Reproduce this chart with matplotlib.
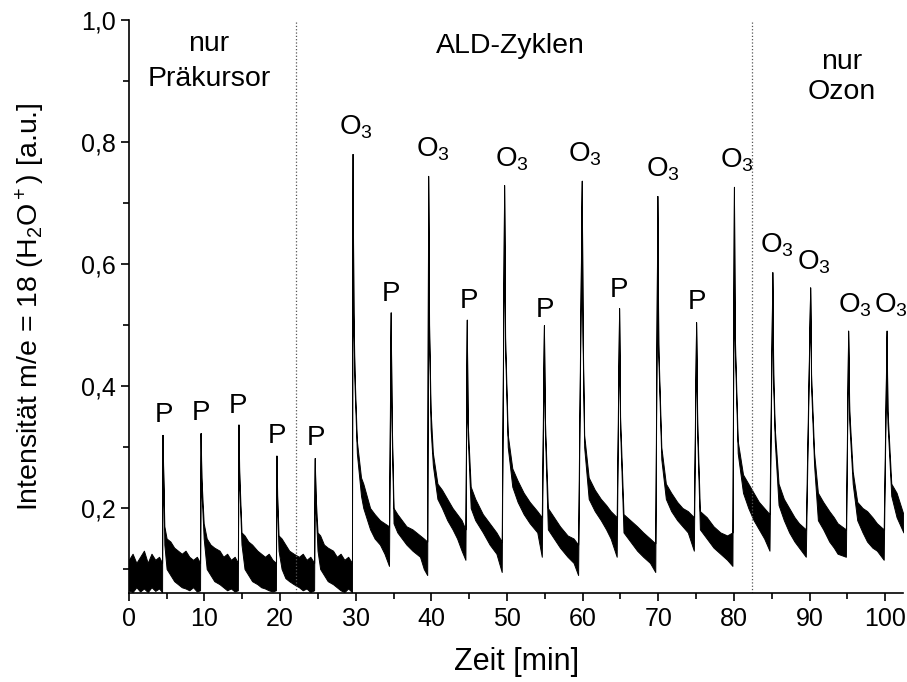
import matplotlib
matplotlib.use("Agg")

import matplotlib.pyplot as plt
from matplotlib.ticker import MultipleLocator, FuncFormatter


# Zeit in min, untere und obere Kante des verrauschten Signals (aus dem Bild gelesen)
zeit = [
    0.0, 0.5, 1.0, 1.5, 2.0, 2.5, 3.0, 3.5, 4.0, 4.40, 4.46, 4.55, 4.7, 5.0, 5.5, 6.0, 6.5, 7.0,
    7.5, 8.0, 8.5, 9.0, 9.42, 9.5, 9.6, 9.9, 10.3, 10.8, 11.3, 12.0, 12.5, 13.0, 13.5, 14.0,
    14.42, 14.5, 14.6, 14.9, 15.3, 15.8, 16.3, 17.0, 17.5, 18.0, 18.5, 19.0, 19.45, 19.52,
    19.62, 19.8, 20.2, 20.7, 21.2, 21.8, 22.5, 23.0, 23.5, 24.0, 24.5, 24.58, 24.7, 24.95,
    25.3, 25.8, 26.3, 27.0, 27.5, 28.0, 28.5, 29.0, 29.5, 29.58,
    29.7, 29.85, 30.15, 30.7, 31.0, 31.9, 32.5, 33.2, 33.8, 34.4, 34.62, 34.75, 35.0, 35.5,
    36.1, 36.7, 37.5, 38.5, 39.0, 39.45, 39.58, 39.7, 39.9, 40.2, 40.8, 41.4, 42.1, 42.8,
    43.4, 44.0, 44.5, 44.68, 44.8, 45.2, 45.8, 46.8, 47.7, 48.6, 49.3, 49.62, 49.75, 50.1,
    50.7, 51.4, 52.2, 53.0, 54.0, 54.6, 54.88, 55.0, 55.4, 56.2, 57.0, 58.0, 58.8, 59.4,
    59.88, 60.0, 60.2, 60.8, 61.6, 62.4, 63.1, 63.7, 64.5, 64.82, 64.95, 65.4, 66.3, 67.2,
    68.0, 68.9, 69.6, 69.88, 70.0, 70.4, 71.0, 71.7, 72.5, 73.2, 73.9, 74.7, 75.0, 75.15,
    75.5, 76.4, 77.3, 78.2, 79.1, 79.8, 80.0, 80.1, 80.5, 81.2, 81.9, 82.6, 83.3, 84.0,
    84.7, 85.08, 85.2, 85.4, 85.9, 86.6, 87.3, 88.0, 88.6, 89.5, 90.08, 90.2, 90.6, 91.1,
    91.8, 92.6, 93.2, 93.7, 94.8, 95.1, 95.25, 95.7, 96.3, 97.0, 97.6, 98.3, 98.9, 99.8,
    100.18, 100.3, 100.8, 101.5, 102.4,
]
unten = [
    .065, .062, .070, .063, .068, .062, .070, .064, .068, .062, .320, .250, .140, .100, .090,
    .080, .075, .070, .068, .065, .070, .063, .065, .323, .230, .150, .100, .090, .080, .075,
    .070, .065, .068, .063, .065, .337, .240, .140, .100, .090, .080, .075, .070, .068, .065,
    .063, .065, .286, .200, .130, .100, .085, .080, .075, .070, .065, .068, .062, .065, .282,
    .200, .130, .100, .090, .080, .075, .070, .065, .062, .068, .062, .781,
    .500, .400, .290, .220, .200, .165, .150, .140, .125, .105, .521, .330, .175, .160, .150,
    .140, .130, .120, .100, .090, .745, .480, .330, .270, .215, .200, .180, .165, .150, .130,
    .115, .509, .320, .200, .180, .160, .140, .125, .095, .730, .460, .300, .235, .210, .190,
    .175, .160, .120, .500, .330, .165, .150, .135, .120, .110, .090, .737, .470, .300, .215,
    .195, .180, .165, .150, .120, .528, .330, .160, .145, .130, .120, .110, .095, .712, .450,
    .280, .215, .195, .180, .170, .160, .130, .505, .320, .165, .150, .135, .125, .115, .105,
    .727, .470, .290, .225, .200, .180, .165, .150, .130, .587, .400, .310, .205, .180, .160,
    .145, .135, .120, .562, .400, .270, .180, .165, .145, .135, .125, .120, .491, .340, .240,
    .180, .160, .145, .135, .130, .115, .491, .340, .220, .185, .160,
]
oben = [
    .115, .125, .110, .120, .130, .110, .125, .115, .120, .110, .320, .260, .170, .150, .145,
    .135, .130, .125, .130, .120, .115, .120, .110, .323, .250, .175, .150, .140, .135, .130,
    .120, .125, .115, .120, .110, .337, .260, .160, .155, .145, .140, .130, .125, .120, .125,
    .115, .110, .286, .220, .155, .150, .140, .130, .125, .120, .125, .115, .120, .110, .282,
    .220, .160, .155, .140, .135, .130, .120, .125, .115, .120, .110, .781,
    .520, .420, .310, .250, .240, .200, .190, .180, .175, .170, .521, .350, .200, .190, .180,
    .170, .165, .155, .150, .145, .745, .500, .360, .290, .240, .230, .215, .200, .190, .180,
    .165, .509, .340, .235, .215, .190, .175, .160, .145, .730, .480, .320, .265, .245, .225,
    .210, .195, .185, .500, .350, .200, .185, .170, .155, .150, .140, .737, .490, .320, .250,
    .230, .215, .205, .195, .185, .528, .350, .190, .180, .170, .160, .150, .142, .712, .470,
    .300, .240, .225, .210, .200, .195, .185, .505, .340, .195, .185, .170, .160, .155, .160,
    .727, .490, .310, .255, .240, .225, .210, .200, .190, .587, .420, .330, .240, .215, .200,
    .185, .175, .165, .562, .420, .290, .225, .210, .195, .185, .175, .165, .491, .360, .260,
    .210, .200, .195, .185, .175, .165, .491, .360, .240, .225, .190,
]

# Beschriftungen der Peaks
p_zeit = [4.6, 9.5, 14.4, 19.6, 24.7, 34.6, 45.0, 55.0, 64.8, 75.1]
p_hoehe = [0.341, 0.345, 0.356, 0.307, 0.304, 0.539, 0.529, 0.514, 0.547, 0.526]
o3_zeit = [27.8, 38.0, 48.4, 58.1, 68.4, 78.2, 83.5, 88.4, 93.7, 98.5]
o3_hoehe = [0.813, 0.777, 0.761, 0.769, 0.744, 0.759, 0.619, 0.591, 0.521, 0.521]

# Phasengrenzen
grenzen = [22.1, 82.4]


plt.rcParams["font.family"] = ["Liberation Sans", "DejaVu Sans"]
plt.rcParams["mathtext.default"] = "regular"

fig = plt.figure(figsize=(9.07, 6.82), dpi=100)
ax = fig.add_axes([0.142, 0.130, 0.854, 0.840])

ax.fill_between(zeit, unten, oben, color="black", linewidth=0.7, edgecolor="black")

for g in grenzen:
    ax.axvline(g, color="#555555", linestyle=":", linewidth=0.9)

for t, h in zip(p_zeit, p_hoehe):
    ax.text(t, h, "P", ha="center", va="baseline", fontsize=20)

for t, h in zip(o3_zeit, o3_hoehe):
    ax.text(t, h, "O$_3$", ha="left", va="baseline", fontsize=20)

ax.text(10.6, 0.950, "nur", ha="center", va="baseline", fontsize=20.5)
ax.text(10.6, 0.892, "Präkursor", ha="center", va="baseline", fontsize=20.5)
ax.text(50.4, 0.947, "ALD-Zyklen", ha="center", va="baseline", fontsize=20.5)
ax.text(94.2, 0.920, "nur", ha="center", va="baseline", fontsize=20.5)
ax.text(94.2, 0.871, "Ozon", ha="center", va="baseline", fontsize=20.5)

ax.set_xlim(0, 102.4)
ax.set_ylim(0.06, 1.0)

ax.xaxis.set_major_locator(MultipleLocator(10))
ax.xaxis.set_minor_locator(MultipleLocator(5))
ax.yaxis.set_major_locator(MultipleLocator(0.2))
ax.yaxis.set_minor_locator(MultipleLocator(0.1))
ax.yaxis.set_major_formatter(FuncFormatter(lambda v, pos: f"{v:.1f}".replace(".", ",")))

ax.spines["top"].set_visible(False)
ax.spines["right"].set_visible(False)
ax.spines["left"].set_linewidth(1.2)
ax.spines["bottom"].set_linewidth(1.2)
ax.tick_params(which="major", direction="out", length=6, width=1.2, labelsize=18)
ax.tick_params(which="minor", direction="out", length=4, width=1.2)

ax.set_xlabel("Zeit [min]", fontsize=22, labelpad=12)
ax.set_ylabel("Intensität m/e = 18 (H$_2$O$^+$) [a.u.]", fontsize=20.5, labelpad=24)

fig.savefig("out.png", dpi=100)
